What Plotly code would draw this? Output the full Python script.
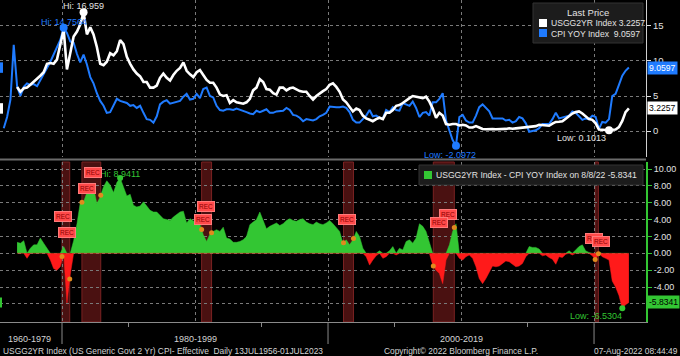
import numpy as np
import plotly.graph_objects as go

# ---------------- data (quarterly) ----------------
usgg2yr = [
    6.3, 5.6,
    6.1, 6.2, 6.6, 7.0,
    7.4, 7.9, 8.4, 9.6,
    9.7, 9.6, 10.2, 12.3,
    14.5, 8.8, 11.0, 13.5,
    14.2, 15.2, 16.959, 13.8,
    14.8, 13.8, 12.0, 9.6,
    9.4, 9.9, 11.1, 10.8,
    11.4, 13.0, 12.4, 10.6,
    9.6, 8.8, 8.2, 7.8,
    7.0, 7.0, 6.2, 6.2,
    6.5, 7.6, 8.2, 7.6,
    7.2, 8.0, 8.6, 9.0,
    9.8, 8.6, 8.1, 7.7,
    8.4, 8.7, 8.0, 7.3,
    6.9, 6.9, 6.2, 5.2,
    5.0, 5.1, 4.0, 4.4,
    4.1, 4.0, 3.9, 4.1,
    4.6, 5.8, 6.2, 7.4,
    7.0, 6.0, 5.9, 5.4,
    5.2, 6.2, 6.2, 5.8,
    6.1, 6.2, 5.9, 5.7,
    5.6, 5.6, 5.0, 4.5,
    5.0, 5.4, 5.7, 6.0,
    6.6, 6.8, 6.3, 5.6,
    4.5, 4.1, 3.5, 2.8,
    3.2, 3.0, 2.2, 1.8,
    1.6, 1.4, 1.7, 1.9,
    1.7, 2.6, 2.6, 3.0,
    3.6, 3.7, 4.0, 4.4,
    4.7, 5.0, 4.9, 4.7,
    4.7, 4.9, 4.2, 3.2,
    1.9, 2.6, 2.2, 1.0,
    0.9, 1.0, 1.0, 0.8,
    0.9, 0.8, 0.5, 0.5,
    0.7, 0.5, 0.3, 0.25,
    0.3, 0.28, 0.25, 0.27,
    0.25, 0.3, 0.4, 0.32,
    0.38, 0.44, 0.55, 0.6,
    0.62, 0.63, 0.7, 0.9,
    0.85, 0.8, 0.75, 1.05,
    1.3, 1.32, 1.4, 1.75,
    2.2, 2.5, 2.7, 2.8,
    2.5, 2.1, 1.7, 1.6,
    1.1, 0.2, 0.15, 0.15,
    0.1013, 0.17, 0.22, 0.55,
    1.45, 2.7, 3.2257,
]
cpi_yoy = [
    0.4, 2.0,
    4.5, 12.3, 6.4, 5.0,
    6.3, 6.8, 6.6, 6.7,
    6.4, 7.2, 8.2, 9.0,
    9.9, 10.9, 11.8, 13.0,
    14.7564, 14.0, 12.8, 12.6,
    11.0, 9.8, 10.9, 9.5,
    7.7, 6.8, 5.4, 4.3,
    3.6, 2.6, 2.7, 3.6,
    4.6, 4.3, 4.2, 4.0,
    3.6, 3.7, 3.3, 3.6,
    2.6, 1.7, 1.6, 1.2,
    2.1, 3.8, 4.2, 4.4,
    3.9, 4.0, 4.1, 4.3,
    4.9, 5.3, 4.5, 4.6,
    5.3, 4.7, 6.0, 6.2,
    5.0, 4.8, 3.6, 3.0,
    2.9, 3.1, 3.1, 3.0,
    3.2, 3.0, 2.8, 2.7,
    2.5, 2.4, 2.9, 2.7,
    2.9, 3.1, 2.6, 2.6,
    2.8, 2.9, 2.9, 3.3,
    3.0, 2.3, 2.2, 1.9,
    1.4, 1.7, 1.6, 1.5,
    1.7, 2.1, 2.3, 2.6,
    3.5, 3.4, 3.4, 3.4,
    3.5, 3.3, 2.7, 1.6,
    1.2, 1.2, 1.7, 2.2,
    3.0, 2.1, 2.2, 1.9,
    1.8, 3.0, 2.7, 3.4,
    3.0, 2.9, 4.0, 3.8,
    3.6, 4.2, 3.3, 2.0,
    2.6, 2.7, 2.2, 4.1,
    4.1, 4.6, 5.4, 1.5,
    0.0, -1.3, -2.0972, 2.0,
    2.3, 1.5, 1.2, 1.2,
    2.2, 3.4, 3.8, 3.3,
    2.8, 1.8, 1.8, 1.8,
    1.8, 1.5, 1.6, 1.2,
    1.4, 2.0, 1.8, 1.1,
    -0.1, 0.0, 0.1, 0.4,
    1.0, 1.0, 1.0, 1.7,
    2.6, 1.8, 1.9, 2.1,
    2.2, 2.8, 2.6, 2.1,
    1.6, 1.8, 1.7, 2.2,
    2.0, 0.3, 1.3, 1.2,
    1.7, 5.0, 5.3, 6.6,
    7.9, 8.6, 9.0597,
]
spread = [
    1.3, 1.2,
    1.5, -0.6, 0.6, 1.0,
    1.0, 1.8, 1.2, 0.6,
    -0.8, -1.8, -2.0, -1.6,
    0.8, -5.9, -2.5, 1.5,
    3.5, 6.0, 6.1, 7.3,
    8.3, 7.8, 5.9, 6.7,
    7.9, 8.6, 8.1, 7.2,
    8.4, 8.9411, 7.8, 6.8,
    7.0, 5.7, 5.5, 5.6,
    6.1, 5.6, 5.1, 4.9,
    4.9, 4.5, 4.1, 4.0,
    3.9, 4.3, 4.6, 4.9,
    5.0, 3.6, 4.1, 3.8,
    3.6, 3.5, 2.2, 1.4,
    2.3, 2.6, 2.8, 2.6,
    3.1, 1.8, 1.7, 1.3,
    1.3, 1.4, 1.6, 2.0,
    3.4, 3.7, 4.0, 4.9,
    3.8, 2.9, 3.2, 3.4,
    3.6, 3.3, 3.5, 3.9,
    4.1, 3.9, 3.8, 4.0,
    4.1, 3.7, 3.5, 3.4,
    3.7, 3.5, 3.4, 3.6,
    3.9, 3.5, 3.0, 2.6,
    1.2, 1.6, 1.0, 1.6,
    2.6, 2.0, 0.6, -0.4,
    -1.4, -0.8, -0.3, 0.3,
    -0.6, -0.4, 0.3, 0.8,
    -0.2, 0.6, 0.4, 1.4,
    1.6, 1.2, 1.8, 3.5,
    3.2, 2.6, 1.2, -1.4,
    -2.0, -2.4, -3.6, -0.8,
    1.0, 2.6, 3.5, -0.6,
    -0.8, -0.4, -0.2, -0.6,
    -1.6, -3.0, -3.6, -3.0,
    -2.2, -1.5, -1.6, -1.5,
    -1.2, -0.9, -1.0, -1.3,
    -1.6, -1.5, -1.2, -0.4,
    0.8, 0.7, 0.7, 0.5,
    -0.3, -0.2, -0.5, -0.7,
    -1.3, -0.4, -0.5, -0.1,
    0.3, -0.2, 0.4, 0.8,
    1.0, 0.3, 0.1, -0.3,
    -0.8, 0.1, -0.4, -0.6,
    -0.8, -3.3, -4.0, -5.0,
    -6.5304, -6.1, -5.8341,
]
recessions = [("1980-01-01", "1980-07-31"), ("1981-07-01", "1982-11-30"),
              ("1990-07-01", "1991-03-31"), ("2001-03-01", "2001-11-30"),
              ("2007-12-01", "2009-06-30"), ("2020-02-01", "2020-04-30")]
rec_label_dates = ["1980-02-01", "1980-05-15", "1982-05-01", "1981-11-15",
                   "1990-11-01", "1990-08-01", "2001-06-01", "2009-01-10",
                   "2008-05-01", "2020-01-01", "2020-07-10"]
rec_label_levels = [4.4, 2.5, 9.6, 7.7, 5.5, 3.95, 3.95, 4.65, 3.6, 1.7, 1.35]
era_bounds = ["1980-01-01", "2000-01-01", "2020-01-01"]
era_labels = ["1960-1979", "1980-1999", "2000-2019"]
era_label_dates = ["1977-08-01", "1990-01-01", "2010-01-01"]
last_2yr, last_cpi, last_spread = 3.2257, 9.0597, -5.8341


def quarter_dates(y, q, n):
    out = []
    for _ in range(n):
        out.append(f"{y}-{(q - 1) * 3 + 2:02d}-15")
        q += 1
        if q > 4:
            q, y = 1, y + 1
    return out


d_2yr = quarter_dates(1976, 3, len(usgg2yr))
d_cpi = quarter_dates(1975, 3, len(cpi_yoy))
d_spr = quarter_dates(1976, 3, len(spread))

# ---------------- styling ----------------
FONT = "Liberation Sans, Arial, sans-serif"
WHITE = "#ffffff"
BLUE = "#1f7bff"
GREEN = "#33c633"
RED = "#ff1a1a"
GRID = "#7a7a7a"
TXT = "#e2e2e2"
W, PH = 646.0, 322.0   # plot width / plot height in px


def PX(x):
    return x / W


def PY(y):
    return (PH - y) / PH


X0, X1 = "1975-05-04", "2023-11-28"

fig = go.Figure()

# top panel lines
fig.add_trace(go.Scatter(x=d_cpi, y=cpi_yoy, mode="lines", line=dict(color=BLUE, width=2),
                         xaxis="x", yaxis="y", hoverinfo="skip"))
fig.add_trace(go.Scatter(x=d_2yr, y=usgg2yr, mode="lines", line=dict(color=WHITE, width=2.6),
                         xaxis="x", yaxis="y", hoverinfo="skip"))

# bottom panel spread area (positive green / negative red)
spr = np.array(spread, dtype=float)
fig.add_trace(go.Scatter(x=d_spr, y=np.maximum(spr, 0), mode="lines", fill="tozeroy",
                         fillcolor=GREEN, line=dict(color=GREEN, width=0.5),
                         xaxis="x2", yaxis="y2", hoverinfo="skip"))
fig.add_trace(go.Scatter(x=d_spr, y=np.minimum(spr, 0), mode="lines", fill="tozeroy",
                         fillcolor=RED, line=dict(color=RED, width=0.5),
                         xaxis="x2", yaxis="y2", hoverinfo="skip"))

# orange dots on spread at recession boundaries
t_spr = np.array([np.datetime64(d) for d in d_spr]).astype("datetime64[D]").astype(float)
rec_pts_x, rec_pts_y = [], []
for a, b in recessions:
    for d in (a, b):
        t = np.datetime64(d).astype("datetime64[D]").astype(float)
        rec_pts_x.append(d)
        rec_pts_y.append(float(np.interp(t, t_spr, spread)))
fig.add_trace(go.Scatter(x=rec_pts_x, y=rec_pts_y, mode="markers",
                         marker=dict(color="#e08a1e", size=5), xaxis="x2", yaxis="y2",
                         hoverinfo="skip"))

# extreme markers
iw_hi, iw_lo = int(np.argmax(usgg2yr)), int(np.argmin(usgg2yr))
ic_hi, ic_lo = int(np.argmax(cpi_yoy)), int(np.argmin(cpi_yoy))
is_hi, is_lo = int(np.argmax(spread)), int(np.argmin(spread))
fig.add_trace(go.Scatter(x=[d_2yr[iw_hi], d_2yr[iw_lo]], y=[usgg2yr[iw_hi], usgg2yr[iw_lo]],
                         mode="markers", marker=dict(color=WHITE, size=8), xaxis="x", yaxis="y",
                         hoverinfo="skip"))
fig.add_trace(go.Scatter(x=[d_cpi[ic_hi], d_cpi[ic_lo]], y=[cpi_yoy[ic_hi], cpi_yoy[ic_lo]],
                         mode="markers", marker=dict(color=BLUE, size=8), xaxis="x", yaxis="y",
                         hoverinfo="skip"))
fig.add_trace(go.Scatter(x=[d_spr[is_hi], d_spr[is_lo]], y=[spread[is_hi], spread[is_lo]],
                         mode="markers", marker=dict(color=GREEN, size=6), xaxis="x2", yaxis="y2",
                         hoverinfo="skip"))

shapes = []
# recession bands (bottom panel)
for a, b in recessions:
    shapes.append(dict(type="rect", xref="x2", yref="y2 domain", x0=a, x1=b, y0=0, y1=1,
                       fillcolor="#4a1111", line=dict(color="#7a2222", width=1), layer="below"))
# era boundary long ticks
for d in era_bounds:
    shapes.append(dict(type="line", xref="x2", yref="paper", x0=d, x1=d, y0=0, y1=PY(344),
                       line=dict(color="#8a8a8a", width=1)))
# separator between panels
shapes.append(dict(type="line", xref="paper", yref="paper", x0=0, x1=PX(646), y0=PY(159.5),
                   y1=PY(159.5), line=dict(color="#6a6a6a", width=2)))
# left cropped last-value tags
shapes.append(dict(type="rect", xref="paper", yref="y", x0=0, x1=PX(3), y0=last_cpi - 0.75,
                   y1=last_cpi + 0.75, fillcolor=BLUE, line=dict(width=0)))
shapes.append(dict(type="rect", xref="paper", yref="y", x0=0, x1=PX(3), y0=last_2yr - 0.75,
                   y1=last_2yr + 0.75, fillcolor=WHITE, line=dict(width=0)))
shapes.append(dict(type="rect", xref="paper", yref="y2", x0=0, x1=PX(2), y0=last_spread - 0.6,
                   y1=last_spread + 0.6, fillcolor=GREEN, line=dict(width=0)))
# top legend box
shapes.append(dict(type="rect", xref="paper", yref="paper", x0=PX(533), x1=PX(643), y0=PY(43),
                   y1=PY(3), fillcolor="#1c1c1c", line=dict(color="#333333", width=1)))
shapes.append(dict(type="rect", xref="paper", yref="paper", x0=PX(539), x1=PX(547), y0=PY(27),
                   y1=PY(19), fillcolor=WHITE, line=dict(width=0)))
shapes.append(dict(type="rect", xref="paper", yref="paper", x0=PX(539), x1=PX(547), y0=PY(37),
                   y1=PY(29), fillcolor=BLUE, line=dict(width=0)))
# bottom legend box
shapes.append(dict(type="rect", xref="paper", yref="paper", x0=PX(419), x1=PX(643), y0=PY(185),
                   y1=PY(165), fillcolor="#1c1c1c", line=dict(color="#333333", width=1)))
shapes.append(dict(type="rect", xref="paper", yref="paper", x0=PX(424), x1=PX(432), y0=PY(179),
                   y1=PY(171), fillcolor=GREEN, line=dict(width=0)))

ann = []


def A(**kw):
    base = dict(showarrow=False, font=dict(family=FONT, size=9, color=TXT))
    f = kw.pop("font", None)
    if f:
        base["font"] = dict(base["font"], **f)
    base.update(kw)
    ann.append(base)


# legends text
A(text="Last Price", xref="paper", yref="paper", x=PX(588), y=PY(12.5), xanchor="center",
  yanchor="middle", font=dict(size=9.5))
A(text=f"USGG2YR Index {last_2yr:.4f}", xref="paper", yref="paper", x=PX(549), y=PY(23),
  xanchor="left", yanchor="middle", font=dict(size=8.6))
A(text=f"CPI YOY Index  {last_cpi:.4f}", xref="paper", yref="paper", x=PX(549), y=PY(33.5),
  xanchor="left", yanchor="middle", font=dict(size=8.6))
A(text=f"USGG2YR Index - CPI YOY Index on 8/8/22 {last_spread:.4f}", xref="paper",
  yref="paper", x=PX(434), y=PY(175), xanchor="left", yanchor="middle", font=dict(size=8.6))

# extreme labels
A(text=f"Hi: {usgg2yr[iw_hi]:.3f}", x=d_2yr[iw_hi], y=usgg2yr[iw_hi], xref="x", yref="y",
  xanchor="center", yanchor="bottom", yshift=-1, font=dict(color=TXT))
A(text=f"Hi: {cpi_yoy[ic_hi]:.4f}", x=d_cpi[ic_hi], y=cpi_yoy[ic_hi], xref="x", yref="y",
  xanchor="center", yanchor="bottom", yshift=-1, font=dict(color=BLUE))
A(text=f"Low: {cpi_yoy[ic_lo]:.4f}", x=d_cpi[ic_lo], y=cpi_yoy[ic_lo], xref="x", yref="y",
  xanchor="center", yanchor="top", yshift=-2, xshift=-6, font=dict(color=BLUE))
A(text=f"Low: {usgg2yr[iw_lo]:.4f}", x=d_2yr[iw_lo], y=usgg2yr[iw_lo], xref="x", yref="y",
  xanchor="right", yanchor="top", yshift=-1, xshift=-1, font=dict(color=TXT))
A(text=f"Hi: {spread[is_hi]:.4f}", x=d_spr[is_hi], y=spread[is_hi], xref="x2", yref="y2",
  xanchor="center", yanchor="bottom", yshift=-3, font=dict(color=GREEN))
A(text=f"Low: {spread[is_lo]:.4f}", x=d_spr[is_lo], y=spread[is_lo], xref="x2", yref="y2",
  xanchor="right", yanchor="top", yshift=-1, xshift=2, font=dict(color=GREEN))

# REC labels
for d, v in zip(rec_label_dates, rec_label_levels):
    A(text="REC", x=d, y=v, xref="x2", yref="y2", xanchor="center", yanchor="middle",
      bgcolor="#ff4a4a", bordercolor="#ff7a7a", borderwidth=1, borderpad=1,
      font=dict(size=6.5, color="#8a0000"))

# right tags
A(text=f"{last_cpi:.4f}", xref="paper", yref="y", x=1, y=last_cpi, xanchor="left",
  yanchor="middle", xshift=1, bgcolor=BLUE, borderpad=1, font=dict(size=8.6, color=WHITE))
A(text=f"{last_2yr:.4f}", xref="paper", yref="y", x=1, y=last_2yr, xanchor="left",
  yanchor="middle", xshift=1, bgcolor=WHITE, borderpad=1, font=dict(size=8.6, color="#000000"))
A(text=f"{last_spread:.4f}", xref="paper", yref="y2", x=1, y=last_spread, xanchor="left",
  yanchor="middle", xshift=1, bgcolor=GREEN, borderpad=1, font=dict(size=8.6, color="#000000"))

# era labels and footer
for d, t in zip(era_label_dates, era_labels):
    A(text=t, xref="x2", yref="paper", x=d, y=PY(339), xanchor="center", yanchor="middle",
      font=dict(size=9, color="#d4d4d4"))
A(text="USGG2YR Index (US Generic Govt 2 Yr) CPI- Effective  Daily 13JUL1956-01JUL2023",
  xref="paper", yref="paper", x=PX(1), y=PY(351), xanchor="left", yanchor="middle",
  font=dict(size=8.4, color="#d4d4d4"))
A(text="Copyright\u00a9 2022 Bloomberg Finance L.P.", xref="paper", yref="paper", x=PX(382),
  y=PY(351), xanchor="left", yanchor="middle", font=dict(size=8.4, color="#d4d4d4"))
A(text="07-Aug-2022 08:44:49", xref="paper", yref="paper", x=PX(680), y=PY(351),
  xanchor="right", yanchor="middle", font=dict(size=8.4, color="#d4d4d4"))

top_dom = [PY(157), 1.0]
bot_dom = [0.0, PY(162)]
xdom = [0.0, 1.0]
y2_ticks = [-6, -4, -2, 0, 2, 4, 6, 8, 10]

fig.update_layout(
    width=680, height=356,
    margin=dict(l=0, r=34, t=0, b=34, autoexpand=False),
    paper_bgcolor="#000000", plot_bgcolor="#000000",
    showlegend=False,
    font=dict(family=FONT, size=9, color=TXT),
    xaxis=dict(domain=xdom, anchor="y", range=[X0, X1], type="date", showticklabels=False,
               showgrid=True, gridcolor=GRID, griddash="dot", gridwidth=1, automargin=False,
               dtick="M120", tick0="1980-01-01", ticks="", zeroline=False, showline=False),
    yaxis=dict(domain=top_dom, anchor="x", range=[-3.71, 18.71], side="right",
               tickvals=[0, 5, 10, 15], ticktext=["0", "5", "10", "15"], automargin=False,
               showgrid=True, gridcolor=GRID, griddash="dot", gridwidth=1,
               ticks="outside", ticklen=4, tickcolor="#e0e0e0", showline=True,
               linecolor="#cfcfcf", linewidth=1, zeroline=False,
               tickfont=dict(family=FONT, size=9.5, color=TXT)),
    xaxis2=dict(domain=xdom, anchor="y2", range=[X0, X1], type="date", showticklabels=False,
                showgrid=True, gridcolor=GRID, griddash="dot", gridwidth=1, automargin=False,
                dtick="M120", tick0="1980-01-01", ticks="", zeroline=False,
                showline=True, linecolor="#8a8a8a", linewidth=1,
                minor=dict(dtick="M60", tick0="1980-01-01", ticks="outside", ticklen=4,
                           tickcolor="#8a8a8a", showgrid=False)),
    yaxis2=dict(domain=bot_dom, anchor="x2", range=[-8.15, 10.83], side="right",
                tickvals=y2_ticks, automargin=False,
                ticktext=["" if v == -6 else f"{v:.2f}" for v in y2_ticks],
                showgrid=True, gridcolor=GRID, griddash="dot", gridwidth=1,
                ticks="outside", ticklen=4, tickcolor=GREEN, showline=True,
                linecolor=GREEN, linewidth=2, zeroline=False,
                tickfont=dict(family=FONT, size=9, color=TXT)),
    shapes=shapes,
    annotations=ann,
)

fig.write_html("out.html", config={"displayModeBar": False},
               post_script="document.body.style.margin='0';")
